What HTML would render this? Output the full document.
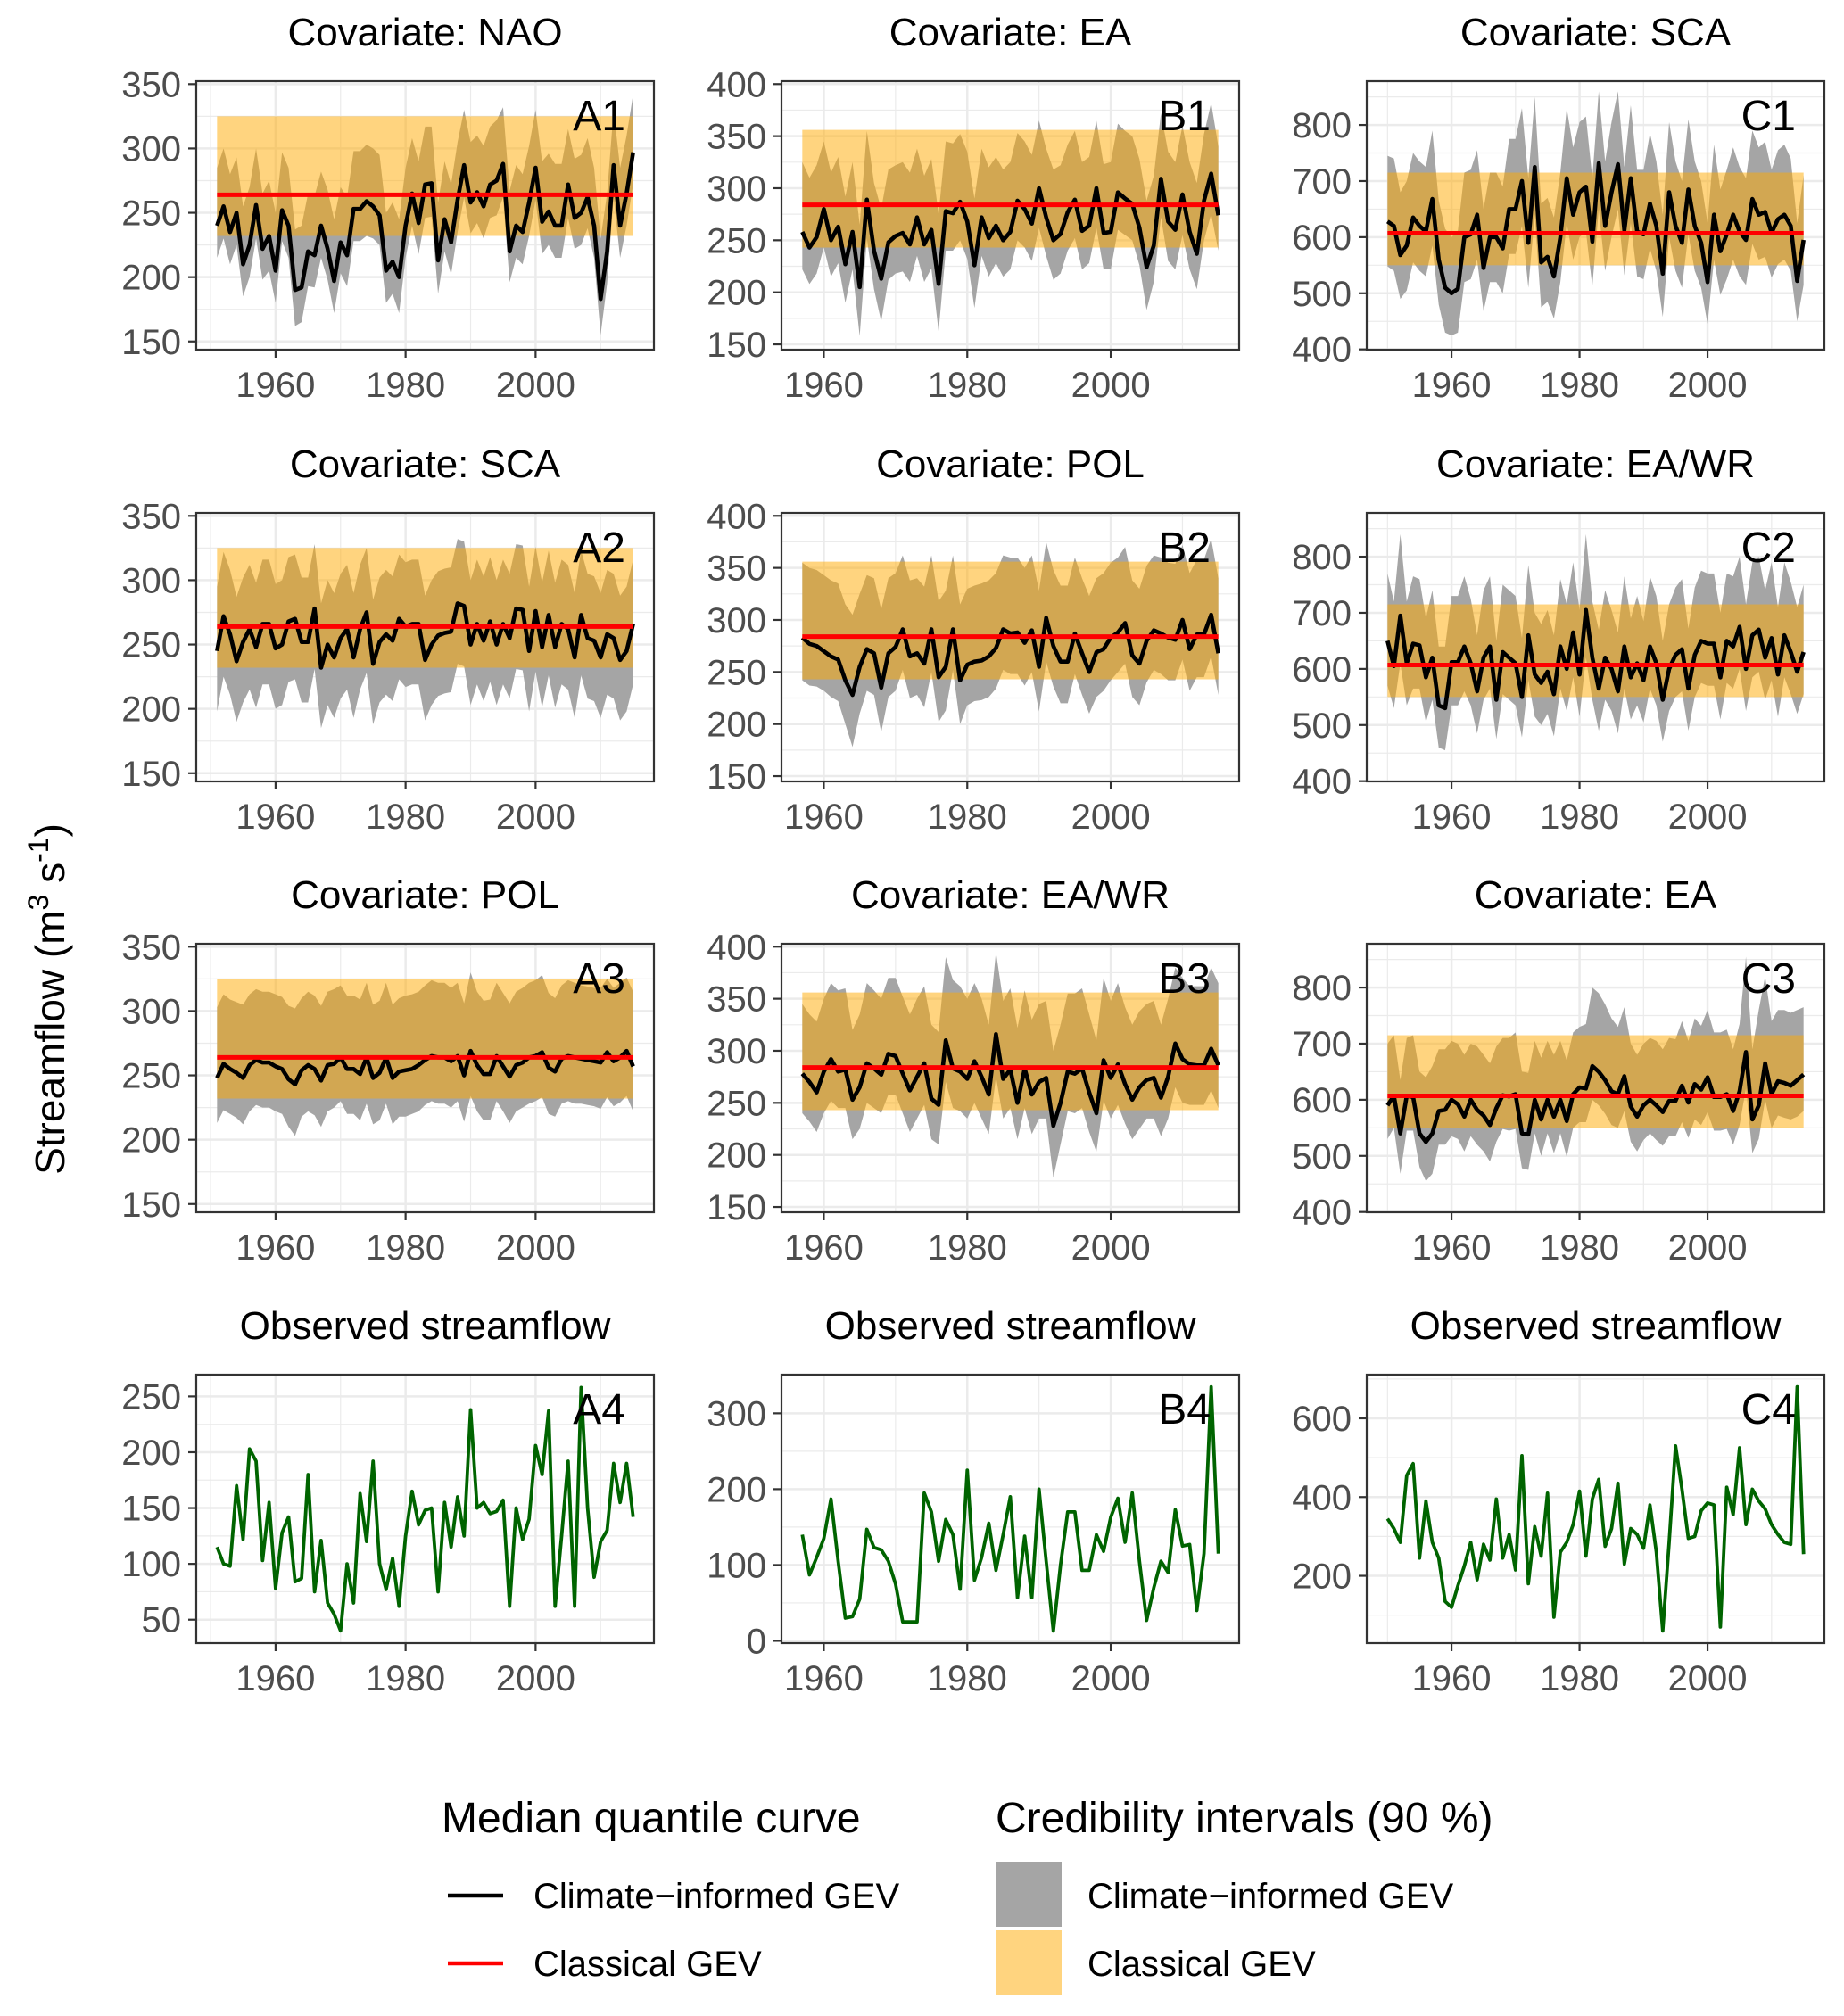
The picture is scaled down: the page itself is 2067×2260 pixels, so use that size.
<!DOCTYPE html>
<html><head><meta charset="utf-8"><title>GEV streamflow panels</title>
<style>
html,body{margin:0;padding:0;background:#fff;}
svg{display:block;font-family:"Liberation Sans",Arial,sans-serif;}
</style></head>
<body>
<svg id="chart" width="2067" height="2260" viewBox="0 0 2067 2260" xmlns="http://www.w3.org/2000/svg">
<rect x="0" y="0" width="2067" height="2260" fill="#fff"/>
<text transform="translate(72,1120) rotate(-90)" text-anchor="middle" font-size="46" fill="#000">Streamflow (m<tspan font-size="32" dy="-18">3</tspan><tspan dy="18"> s</tspan><tspan font-size="32" dy="-18">-1</tspan><tspan dy="18">)</tspan></text>
<g id="panels"></g>
<g transform="translate(0,8)">
<text x="495" y="2046" font-size="48" fill="#000">Median quantile curve</text>
<text x="1116" y="2046" font-size="48" fill="#000">Credibility intervals (90 %)</text>
<line x1="502" y1="2117" x2="564" y2="2117" stroke="#000" stroke-width="4.5"/>
<text x="598" y="2131" font-size="40" fill="#000">Climate−informed GEV</text>
<line x1="502" y1="2193" x2="564" y2="2193" stroke="#ff0000" stroke-width="4.5"/>
<text x="598" y="2207" font-size="40" fill="#000">Classical GEV</text>
<rect x="1117" y="2079" width="73" height="73" fill="#a5a5a5"/>
<text x="1219" y="2131" font-size="40" fill="#000">Climate−informed GEV</text>
<rect x="1117" y="2156" width="73" height="73" fill="#ffd47f"/>
<text x="1219" y="2207" font-size="40" fill="#000">Classical GEV</text>
</g>
</svg>
<script>
// ---------- data ----------
const startA = 1951, startB = 1957, startC = 1950;
const xTickYears = [1960, 1980, 2000];
const xMinorYears = [1950, 1970, 1990, 2010];

const ticksA = [150, 200, 250, 300, 350];
const ticksB = [150, 200, 250, 300, 350, 400];
const ticksC = [400, 500, 600, 700, 800];
const ticksA4 = [50, 100, 150, 200, 250];
const ticksB4 = [0, 100, 200, 300];
const ticksC4 = [200, 400, 600];

const classicalA = [264, 232, 325];
const classicalB = [284, 243, 356];
const classicalC = [607, 550, 715];

const A1med = [240,255,235,250,210,225,256,222,232,205,252,240,190,192,220,217,240,222,197,227,217,253,253,259,255,248,205,212,200,240,265,242,272,273,213,245,227,260,287,258,266,255,272,275,288,220,240,235,258,285,243,251,240,240,272,246,250,262,240,183,220,287,240,265,297];
const A1up = [285,300,280,293,255,270,300,265,275,250,297,285,237,240,265,263,282,268,245,270,262,298,298,303,300,295,250,258,245,285,308,290,317,317,258,290,272,305,330,305,310,302,317,322,332,267,287,280,302,330,290,296,288,288,315,292,295,308,285,230,265,330,285,310,342];
const A1lo = [215,230,210,225,185,200,230,198,205,180,228,215,162,165,193,192,215,198,172,203,193,228,228,232,230,225,180,187,172,215,240,218,246,247,187,220,202,235,262,234,242,230,246,248,262,196,215,210,232,260,218,225,215,215,246,222,225,238,215,155,195,262,215,240,272];

const B1med = [258,243,253,280,250,263,227,258,205,289,240,213,248,254,257,246,272,246,260,208,278,276,287,268,226,272,252,264,250,258,288,280,266,300,272,250,256,277,289,259,264,300,257,258,296,290,285,262,224,245,309,268,260,294,258,237,288,314,274];
const B1up = [325,310,322,345,315,330,292,325,265,355,305,280,318,322,325,315,338,312,328,275,345,343,352,335,290,338,320,330,318,325,353,345,332,365,338,318,322,342,355,325,330,365,323,325,362,355,350,328,288,312,372,335,325,360,325,305,352,382,340];
const B1lo = [222,208,218,243,215,228,190,222,158,252,203,172,212,218,220,210,235,210,223,162,240,240,250,232,185,235,215,228,215,222,250,243,230,262,235,212,218,240,252,222,228,262,222,222,260,255,250,226,183,210,272,230,222,255,222,203,250,275,240];

const C1med = [628,620,568,585,635,620,610,668,560,510,500,508,600,605,640,545,600,600,580,650,650,700,590,725,555,565,530,600,705,640,680,690,592,732,620,680,730,612,705,610,605,660,620,535,680,620,590,685,620,590,520,640,575,605,640,610,595,668,640,645,608,632,640,620,522,595];
const C1up = [745,740,680,700,750,735,725,790,665,615,600,612,715,720,755,650,715,715,690,775,775,830,705,850,660,670,635,715,830,760,805,815,705,860,735,805,860,725,835,720,720,785,735,640,805,735,700,810,735,700,625,765,685,720,760,725,705,790,760,770,720,755,765,740,625,710];
const C1lo = [548,540,490,505,555,540,530,585,480,430,425,430,520,525,560,468,520,520,500,570,570,620,510,640,475,485,455,520,625,560,600,610,512,650,540,600,650,532,625,530,525,580,540,458,600,540,510,605,540,510,445,560,497,525,560,530,515,588,560,565,528,552,560,540,450,515];

const A2med = [245,272,258,237,252,262,248,266,266,247,250,268,270,252,252,278,232,250,240,255,262,240,262,275,235,252,258,253,270,264,266,266,238,250,257,259,260,282,280,250,266,253,268,250,266,255,278,277,245,276,248,273,248,266,262,240,273,255,253,240,258,255,238,245,266];
const A2up = [295,322,308,287,302,312,298,316,316,297,300,318,320,302,302,328,282,300,290,305,312,290,312,325,285,302,308,303,320,314,316,316,288,300,307,309,310,332,330,300,316,303,318,300,316,305,328,327,295,326,298,323,298,316,312,290,323,305,303,290,308,305,288,295,316];
const A2lo = [198,225,211,190,205,215,201,219,219,200,203,221,223,205,205,231,185,203,193,208,215,193,215,228,188,205,211,206,223,217,219,219,191,203,210,212,213,235,233,203,219,206,221,203,219,208,231,230,198,229,201,226,201,219,215,193,226,208,206,193,211,208,191,198,219];

const B2med = [283,277,275,270,265,262,242,228,255,272,268,235,268,274,291,265,268,258,291,245,255,291,242,257,260,261,265,273,291,287,288,278,290,255,302,275,260,260,287,268,250,269,272,283,288,297,266,258,280,290,287,283,281,300,272,286,286,305,268];
const B2up = [355,350,348,343,338,335,315,305,325,343,340,310,340,345,362,338,340,332,362,318,328,362,315,330,333,335,338,345,362,360,360,350,362,328,375,348,333,333,360,340,323,340,345,355,360,370,338,330,352,362,360,355,354,372,345,358,358,378,340];
const B2lo = [242,237,236,232,226,222,200,178,210,232,228,192,226,232,252,225,228,216,250,202,213,252,200,218,222,223,226,234,252,248,248,237,250,212,260,236,220,220,248,228,210,226,232,242,250,258,226,218,240,252,248,242,242,262,232,245,245,265,228];

const C2med = [650,605,695,610,645,642,585,620,535,530,612,612,640,610,560,620,640,545,630,620,610,550,660,590,575,595,555,640,600,665,590,705,620,565,620,600,560,640,585,610,580,640,610,545,600,625,635,565,625,650,645,645,585,650,640,675,600,660,670,620,655,590,660,630,595,630];
const C2up = [770,720,840,720,765,760,690,740,640,640,730,730,765,725,660,740,765,650,750,740,730,655,785,700,680,705,660,760,715,790,705,840,720,670,740,705,665,765,690,730,685,765,730,650,715,745,760,672,745,775,770,770,700,770,765,800,715,790,800,740,790,710,790,755,710,750];
const C2lo = [570,530,610,535,565,565,505,545,460,455,535,535,560,535,485,545,565,475,555,545,535,478,580,515,500,520,480,565,525,585,515,620,545,490,545,525,485,565,510,535,505,565,535,470,525,550,560,490,550,575,570,570,510,575,565,600,525,585,595,545,580,515,585,555,520,555];

const A3med = [248,259,255,252,248,258,262,260,260,257,255,247,243,254,258,255,246,258,259,264,255,255,251,264,248,252,264,248,253,254,255,258,262,265,264,264,261,265,250,269,258,251,251,265,257,249,258,260,264,265,268,256,253,263,265,264,263,262,261,260,268,261,264,269,257];
const A3up = [303,313,309,307,305,313,317,315,315,313,311,304,302,310,315,312,304,315,317,320,312,312,309,322,305,308,322,305,310,312,313,315,320,324,322,322,318,322,306,330,315,308,309,322,314,306,315,318,322,324,328,314,310,320,324,322,320,319,318,318,325,318,322,326,315];
const A3lo = [213,223,220,217,212,222,227,225,225,222,220,210,203,218,222,219,210,222,225,230,220,220,215,228,212,215,228,212,218,218,220,222,227,230,228,228,225,230,214,234,222,215,215,230,222,213,222,225,228,230,233,220,218,228,230,228,228,227,226,224,233,226,229,234,222];

const B3med = [278,270,260,280,292,280,282,253,265,288,283,277,297,295,278,262,275,288,254,248,310,283,280,273,290,275,258,316,273,282,250,283,258,270,274,228,250,280,278,283,260,240,291,274,287,268,253,265,272,274,255,275,307,292,287,286,286,302,286];
const B3up = [345,335,328,350,365,358,360,320,335,365,358,350,370,370,352,335,350,362,325,318,390,368,362,350,365,350,325,395,348,360,322,358,330,345,348,300,325,355,355,360,335,310,370,348,365,342,325,338,345,348,325,350,380,370,362,362,362,380,365];
const B3lo = [240,232,222,240,252,245,245,215,225,250,245,240,258,258,240,222,235,248,215,210,270,245,242,235,250,235,220,275,235,245,215,245,220,235,235,178,210,242,240,245,222,203,252,235,248,230,215,225,235,235,218,235,265,250,248,248,248,262,245];

const C3med = [590,607,540,607,605,540,525,540,580,582,600,592,570,600,582,572,555,585,608,606,610,540,538,600,565,600,570,600,562,610,622,620,660,650,635,615,610,642,588,570,590,600,590,578,598,598,625,595,628,618,640,605,605,610,580,615,685,565,590,665,610,633,630,625,635,645];
const C3up = [700,715,635,710,715,650,640,660,690,690,705,700,680,700,695,680,665,695,710,710,720,650,648,705,675,705,680,705,670,720,730,735,800,790,770,745,730,765,700,680,700,710,705,690,710,708,740,705,745,732,760,720,720,725,690,735,855,690,760,820,740,760,760,755,760,765];
const C3lo = [530,550,468,545,545,480,455,468,520,520,535,530,508,535,520,508,490,525,548,545,548,478,475,540,500,540,505,540,498,550,560,560,600,590,575,555,550,580,525,508,528,540,528,518,535,535,560,532,565,555,578,545,545,548,520,555,620,505,530,600,550,572,568,565,570,580];

const A4obs = [115,100,98,170,122,203,192,103,155,78,128,142,84,87,180,75,121,65,55,40,100,65,163,120,192,100,77,105,62,125,165,135,148,150,75,155,115,160,125,238,150,155,145,147,157,62,150,122,140,206,180,237,62,125,192,62,258,150,88,120,130,190,155,190,142];
const B4obs = [140,87,110,135,187,105,30,32,55,147,123,120,105,75,25,25,25,195,170,105,160,140,68,225,80,110,155,93,140,190,57,138,57,200,105,13,100,170,170,93,93,140,118,163,188,130,195,105,27,70,105,90,173,125,127,40,115,335,115];
const C4obs = [345,320,285,455,485,245,390,285,245,135,120,175,225,285,190,280,240,395,245,305,215,505,180,325,250,410,95,260,285,330,415,250,395,445,275,320,435,230,320,305,270,380,260,60,285,530,420,295,300,365,385,380,70,425,355,525,330,420,390,370,330,305,285,280,680,255];

// ---------- layout ----------
const NS = 'http://www.w3.org/2000/svg';
const root = document.getElementById('panels');
const colX = [220, 876, 1532];
const PW = 513, PH = 301;
const rowY = [91, 575, 1058, 1541];
const xDom = [[1947.8, 2018.2], [1954.1, 2017.9], [1946.75, 2018.25]];
const yDom = [[143.6, 352.3], [144.9, 402.8], [399.5, 878]];
const yDomObs = [[29, 269.5], [-3, 351], [29, 711]];

function mk(tag, attrs, parent) {
  const e = document.createElementNS(NS, tag);
  for (const k in attrs) e.setAttribute(k, attrs[k]);
  parent.appendChild(e);
  return e;
}

function panel(id, col, row, title, ticks, start, series) {
  const g = mk('g', {}, root);
  
  
  const L = colX[col], T = rowY[row];
  const xd = xDom[col];
  const yd = series.obs ? yDomObs[col] : yDom[col];
  const sx = yr => L + (yr - xd[0]) / (xd[1] - xd[0]) * PW;
  const sy = v => T + PH - (v - yd[0]) / (yd[1] - yd[0]) * PH;
  const t = mk('text', {x: L + PW / 2, y: T - 40, 'text-anchor': 'middle', 'font-size': 44, fill: '#000'}, g);
  t.textContent = title;
  
  
  const cp = mk('clipPath', {id: 'clip' + id}, g);
  mk('rect', {x: L, y: T, width: PW, height: PH}, cp);
  const inner = mk('g', {'clip-path': 'url(#clip' + id + ')'}, g);
  for (let i = 0; i < ticks.length - 1; i++) {
    const m = (ticks[i] + ticks[i + 1]) / 2;
    mk('line', {x1: L, x2: L + PW, y1: sy(m), y2: sy(m), stroke: '#ebebeb', 'stroke-width': 1.2}, inner);
  }
  const step = ticks[1] - ticks[0];
  [ticks[0] - step / 2, ticks[ticks.length - 1] + step / 2].forEach(m => {
    mk('line', {x1: L, x2: L + PW, y1: sy(m), y2: sy(m), stroke: '#ebebeb', 'stroke-width': 1.2}, inner);
  });
  xMinorYears.forEach(yr => mk('line', {x1: sx(yr), x2: sx(yr), y1: T, y2: T + PH, stroke: '#ebebeb', 'stroke-width': 1.2}, inner));
  ticks.forEach(v => mk('line', {x1: L, x2: L + PW, y1: sy(v), y2: sy(v), stroke: '#ebebeb', 'stroke-width': 2.5}, inner));
  xTickYears.forEach(yr => mk('line', {x1: sx(yr), x2: sx(yr), y1: T, y2: T + PH, stroke: '#ebebeb', 'stroke-width': 2.5}, inner));
  const n = (series.obs || series.med).length;
  const yrs = [];
  for (let i = 0; i < n; i++) yrs.push(start + i);
  if (series.obs) {
    const pl = mk('polyline', {points: yrs.map((y, i) => sx(y) + ',' + sy(series.obs[i])).join(' '), fill: 'none', stroke: '#006400', 'stroke-width': 3.8, 'stroke-linejoin': 'round'}, inner);
    
    
  } else {
    let pts = yrs.map((y, i) => sx(y) + ',' + sy(series.up[i]));
    for (let i = n - 1; i >= 0; i--) pts.push(sx(yrs[i]) + ',' + sy(series.lo[i]));
    const rib = mk('polygon', {points: pts.join(' '), fill: '#a5a5a5'}, inner);
    
    
    const cl = series.cls;
    const band = mk('rect', {x: sx(yrs[0]), y: sy(cl[2]), width: sx(yrs[n - 1]) - sx(yrs[0]), height: sy(cl[1]) - sy(cl[2]), fill: '#ffaa00', 'fill-opacity': 0.5}, inner);
    
    
    const med = mk('polyline', {points: yrs.map((y, i) => sx(y) + ',' + sy(series.med[i])).join(' '), fill: 'none', stroke: '#000', 'stroke-width': 4.6, 'stroke-linejoin': 'round'}, inner);
    
    
    const red = mk('line', {x1: sx(yrs[0]), x2: sx(yrs[n - 1]), y1: sy(cl[0]), y2: sy(cl[0]), stroke: '#ff0000', 'stroke-width': 5}, inner);
    
    
  }
  mk('rect', {x: L, y: T, width: PW, height: PH, fill: 'none', stroke: '#333', 'stroke-width': 2.2}, g);
  const lab = mk('text', {x: L + PW - 32, y: T + 55, 'text-anchor': 'end', 'font-size': 48, fill: '#000'}, g);
  lab.textContent = id;
  
  
  ticks.forEach(v => {
    mk('line', {x1: L - 9, x2: L, y1: sy(v), y2: sy(v), stroke: '#333', 'stroke-width': 2.2}, g);
    const tl = mk('text', {x: L - 17, y: sy(v) + 14, 'text-anchor': 'end', 'font-size': 40, fill: '#4d4d4d'}, g);
    tl.textContent = v;
    
    
  });
  xTickYears.forEach(yr => {
    mk('line', {x1: sx(yr), x2: sx(yr), y1: T + PH, y2: T + PH + 9, stroke: '#333', 'stroke-width': 2.2}, g);
    const tl = mk('text', {x: sx(yr), y: T + PH + 53, 'text-anchor': 'middle', 'font-size': 40, fill: '#4d4d4d'}, g);
    tl.textContent = yr;
    
    
  });
}

panel('A1', 0, 0, 'Covariate: NAO', ticksA, startA, {med: A1med, up: A1up, lo: A1lo, cls: classicalA});
panel('B1', 1, 0, 'Covariate: EA', ticksB, startB, {med: B1med, up: B1up, lo: B1lo, cls: classicalB});
panel('C1', 2, 0, 'Covariate: SCA', ticksC, startC, {med: C1med, up: C1up, lo: C1lo, cls: classicalC});
panel('A2', 0, 1, 'Covariate: SCA', ticksA, startA, {med: A2med, up: A2up, lo: A2lo, cls: classicalA});
panel('B2', 1, 1, 'Covariate: POL', ticksB, startB, {med: B2med, up: B2up, lo: B2lo, cls: classicalB});
panel('C2', 2, 1, 'Covariate: EA/WR', ticksC, startC, {med: C2med, up: C2up, lo: C2lo, cls: classicalC});
panel('A3', 0, 2, 'Covariate: POL', ticksA, startA, {med: A3med, up: A3up, lo: A3lo, cls: classicalA});
panel('B3', 1, 2, 'Covariate: EA/WR', ticksB, startB, {med: B3med, up: B3up, lo: B3lo, cls: classicalB});
panel('C3', 2, 2, 'Covariate: EA', ticksC, startC, {med: C3med, up: C3up, lo: C3lo, cls: classicalC});
panel('A4', 0, 3, 'Observed streamflow', ticksA4, startA, {obs: A4obs});
panel('B4', 1, 3, 'Observed streamflow', ticksB4, startB, {obs: B4obs});
panel('C4', 2, 3, 'Observed streamflow', ticksC4, startC, {obs: C4obs});
</script>
</body></html>
